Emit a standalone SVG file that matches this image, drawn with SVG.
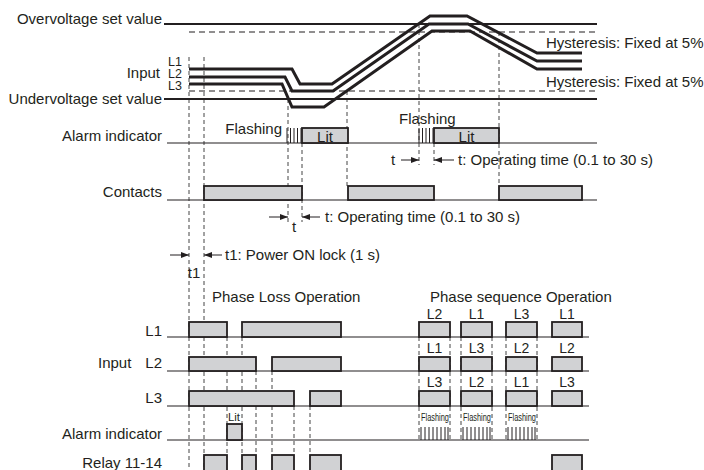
<svg xmlns="http://www.w3.org/2000/svg" width="704" height="470" viewBox="0 0 704 470">
<defs>
<style>
text{font-family:"Liberation Sans",Arial,sans-serif;font-size:15px;fill:#231f20}
.r{text-anchor:end}
.m{text-anchor:middle}
.sm{font-size:12.5px}
.lb{font-size:14px}
.tiny{font-size:10px}
.base{stroke:#231f20;stroke-width:1.2;fill:none}
.set{stroke:#231f20;stroke-width:2.2;fill:none}
.inp{stroke:#231f20;stroke-width:3;fill:none;stroke-linejoin:miter}
.hd{stroke:#231f20;stroke-width:1.2;fill:none;stroke-dasharray:6,4}
.vd{stroke:#444;stroke-width:1;fill:none;stroke-dasharray:4,3}
.box{fill:#d1d2d4;stroke:#231f20;stroke-width:1.8}
.hatch{stroke:#231f20;stroke-width:1;fill:none}
.arr{stroke:#231f20;stroke-width:1;fill:none;marker-end:url(#ah)}
</style>
<marker id="ah" markerUnits="userSpaceOnUse" markerWidth="8" markerHeight="6" refX="8" refY="3" orient="auto">
<path d="M0,0 L8,3 L0,6 z" fill="#231f20"/>
</marker>
</defs>
<rect width="704" height="470" fill="#fff"/>

<g id="connectors">
<path class="vd" d="M189,57V470 M204,57V470 M288,99V222 M302,143V222 M347,91V186 M419,24V165 M434,143V165 M499,32V186"/>
<path class="vd" d="M227,337V455 M242,337V455 M256,371V455 M272,371V455 M294,406V455 M310,406V455"/>
<path class="vd" d="M419,337V440 M450,337V440 M461,337V440 M492,337V440 M506,337V440 M537,337V440"/>
<line class="arr" x1="401" y1="160" x2="419" y2="160"/>
<line class="arr" x1="454" y1="160" x2="434" y2="160"/>
<line class="arr" x1="269" y1="217" x2="288" y2="217"/>
<line class="arr" x1="320" y1="217" x2="302" y2="217"/>
<line class="arr" x1="170" y1="255" x2="189" y2="255"/>
<line class="arr" x1="222" y1="255" x2="204" y2="255"/>
</g>

<g id="voltage-chart">
<text class="r" x="162" y="24">Overvoltage set value</text>
<text class="r" x="162" y="104">Undervoltage set value</text>
<text class="r" x="160" y="78">Input</text>
<text class="sm" x="168" y="66">L1</text>
<text class="sm" x="168" y="78">L2</text>
<text class="sm" x="168" y="90">L3</text>
<line class="set" x1="164" y1="24" x2="597" y2="24"/>
<line class="hd" x1="189" y1="32" x2="597" y2="32"/>
<line class="hd" x1="189" y1="91" x2="597" y2="91"/>
<line class="set" x1="164" y1="99" x2="597" y2="99"/>
<path class="inp" d="M189,69 L292,69 L300,84 L332,84 L430,16 L467,16 L537,53 L582,53"/>
<path class="inp" d="M189,77 L285,77 L292,91 L333,91 L429,24 L468,24 L537,61 L582,61"/>
<path class="inp" d="M189,84 L282,84 L292,107 L324,107 L432,31 L470,31 L537,69 L582,69"/>
<text x="546" y="48">Hysteresis: Fixed at 5%</text>
<text x="546" y="87">Hysteresis: Fixed at 5%</text>
</g>

<g id="alarm-indicator">
<text class="r" x="162" y="141">Alarm indicator</text>
<line class="base" x1="167" y1="143" x2="597" y2="143"/>
<text class="r" x="282" y="134">Flashing</text>
<path class="hatch" d="M287,128V143 M290.5,128V143 M294,128V143 M297.5,128V143 M301,128V143"/>
<rect class="box" x="302" y="128" width="46" height="15"/>
<text class="m" x="325" y="142">Lit</text>
<text x="399" y="124">Flashing</text>
<path class="hatch" d="M419,128V143 M422.5,128V143 M426,128V143 M429.5,128V143 M433,128V143"/>
<rect class="box" x="434" y="128" width="65" height="15"/>
<text class="m" x="466.5" y="142">Lit</text>
<text class="m" x="393" y="165">t</text>
<text x="458" y="165">t: Operating time (0.1 to 30 s)</text>
</g>

<g id="contacts">
<text class="r" x="162" y="197">Contacts</text>
<line class="base" x1="167" y1="200" x2="597" y2="200"/>
<rect class="box" x="204" y="186" width="98" height="14"/>
<rect class="box" x="348" y="186" width="86" height="14"/>
<rect class="box" x="499" y="186" width="83" height="14"/>
<text x="325" y="222">t: Operating time (0.1 to 30 s)</text>
<text class="m" x="294" y="232">t</text>
</g>

<g id="power-on-lock">
<text x="225" y="260">t1: Power ON lock (1 s)</text>
<text class="m" x="194" y="278">t1</text>
</g>

<g id="phase-loss">
<text x="212" y="302">Phase Loss Operation</text>
<text class="r" x="162" y="336">L1</text>
<text class="r" x="162" y="368">L2</text>
<text x="98" y="368">Input</text>
<text class="r" x="162" y="403">L3</text>
<text class="r" x="162" y="439">Alarm indicator</text>
<text class="r" x="162" y="468">Relay 11-14</text>
<line class="base" x1="167" y1="337" x2="589" y2="337"/>
<line class="base" x1="167" y1="371" x2="589" y2="371"/>
<line class="base" x1="167" y1="406" x2="589" y2="406"/>
<line class="base" x1="167" y1="440" x2="589" y2="440"/>
<rect class="box" x="189" y="322" width="38" height="15"/>
<rect class="box" x="242" y="322" width="99" height="15"/>
<rect class="box" x="189" y="357" width="67" height="14"/>
<rect class="box" x="272" y="357" width="69" height="14"/>
<rect class="box" x="189" y="391" width="105" height="15"/>
<rect class="box" x="310" y="391" width="31" height="15"/>
<rect class="box" x="227" y="424" width="15" height="16"/>
<text class="tiny" x="228" y="421" textLength="12" lengthAdjust="spacingAndGlyphs">Lit</text>
<rect class="box" x="204" y="455" width="23" height="22"/>
<rect class="box" x="242" y="455" width="14" height="22"/>
<rect class="box" x="272" y="455" width="22" height="22"/>
<rect class="box" x="310" y="455" width="31" height="22"/>
</g>

<g id="phase-sequence">
<text x="430" y="302">Phase sequence Operation</text>
<rect class="box" x="419" y="322" width="31" height="15"/>
<rect class="box" x="461" y="322" width="31" height="15"/>
<rect class="box" x="506" y="322" width="31" height="15"/>
<rect class="box" x="552" y="322" width="30" height="15"/>
<rect class="box" x="419" y="357" width="31" height="14"/>
<rect class="box" x="461" y="357" width="31" height="14"/>
<rect class="box" x="506" y="357" width="31" height="14"/>
<rect class="box" x="552" y="357" width="30" height="14"/>
<rect class="box" x="419" y="391" width="31" height="15"/>
<rect class="box" x="461" y="391" width="31" height="15"/>
<rect class="box" x="506" y="391" width="31" height="15"/>
<rect class="box" x="552" y="391" width="30" height="15"/>
<rect class="box" x="552" y="455" width="30" height="22"/>
<text class="m lb" x="434.5" y="318.5">L2</text>
<text class="m lb" x="434.5" y="352.5">L1</text>
<text class="m lb" x="434.5" y="387">L3</text>
<text class="m lb" x="476.5" y="318.5">L1</text>
<text class="m lb" x="476.5" y="352.5">L3</text>
<text class="m lb" x="476.5" y="387">L2</text>
<text class="m lb" x="521.5" y="318.5">L3</text>
<text class="m lb" x="521.5" y="352.5">L2</text>
<text class="m lb" x="521.5" y="387">L1</text>
<text class="m lb" x="567" y="318.5">L1</text>
<text class="m lb" x="567" y="352.5">L2</text>
<text class="m lb" x="567" y="387">L3</text>
<text class="tiny" x="421" y="421" textLength="28" lengthAdjust="spacingAndGlyphs">Flashing</text>
<text class="tiny" x="463" y="421" textLength="28" lengthAdjust="spacingAndGlyphs">Flashing</text>
<text class="tiny" x="508" y="421" textLength="28" lengthAdjust="spacingAndGlyphs">Flashing</text>
<path class="hatch" d="M421,427V440 M425,427V440 M429,427V440 M433,427V440 M437,427V440 M441,427V440 M445,427V440 M448,427V440"/>
<path class="hatch" d="M463,427V440 M467,427V440 M471,427V440 M475,427V440 M479,427V440 M483,427V440 M487,427V440 M490,427V440"/>
<path class="hatch" d="M508,427V440 M512,427V440 M516,427V440 M520,427V440 M524,427V440 M528,427V440 M532,427V440 M535,427V440"/>
</g>
</svg>
